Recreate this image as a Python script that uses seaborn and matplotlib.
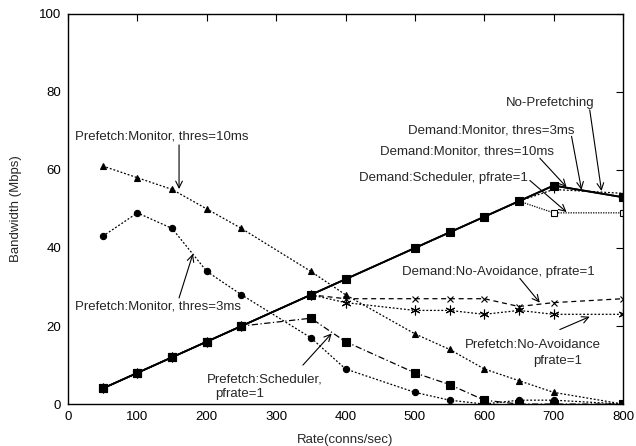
import matplotlib
matplotlib.use("Agg")
import matplotlib.pyplot as plt
import seaborn as sns
import pandas as pd

sns.set_theme(style="white")
plt.rcParams['font.family'] = ['Liberation Sans', 'DejaVu Sans']

rate = [50, 100, 150, 200, 250, 350, 400, 500, 550, 600, 650, 700, 800]

no_prefetching = [4, 8, 12, 16, 20, 28, 32, 40, 44, 48, 52, 55, 54]
demand_monitor_3ms = [4, 8, 12, 16, 20, 28, 32, 40, 44, 48, 52, 56, 53]
demand_monitor_10ms = [4, 8, 12, 16, 20, 28, 32, 40, 44, 48, 52, 56, 53]
demand_scheduler = [4, 8, 12, 16, 20, 28, 32, 40, 44, 48, 52, 49, 49]
demand_noavoid = [4, 8, 12, 16, 20, 28, 27, 27, 27, 27, 25, 26, 27]
prefetch_noavoid = [4, 8, 12, 16, 20, 28, 26, 24, 24, 23, 24, 23, 23]
prefetch_monitor_10ms = [61, 58, 55, 50, 45, 34, 28, 18, 14, 9, 6, 3, 0]
prefetch_monitor_3ms = [43, 49, 45, 34, 28, 17, 9, 3, 1, 0, 1, 1, 0]
prefetch_scheduler = [4, 8, 12, 16, 20, 22, 16, 8, 5, 1, 0, 0, 0]

fig = plt.figure(figsize=(6.36, 4.46), dpi=100)
ax = fig.add_axes([0.107, 0.094, 0.8726, 0.875])

def draw(vals, ls, marker, ms, lw=0.9, mfc='black', zorder=2):
    df = pd.DataFrame({"rate": rate, "bw": vals})
    sns.lineplot(data=df, x="rate", y="bw", ax=ax, color="black",
                 linestyle=ls, marker=marker, markersize=ms, lw=lw,
                 markerfacecolor=mfc, markeredgecolor='black',
                 markeredgewidth=0.8, estimator=None, sort=False,
                 zorder=zorder)

draw(prefetch_monitor_10ms, (0, (1.5, 1.5)), '^', 4)
draw(prefetch_monitor_3ms, (0, (1.5, 1.5)), 'o', 4.5)
draw(prefetch_scheduler, (0, (5, 2, 1, 2)), 's', 5.5)
draw(prefetch_noavoid, (0, (1.5, 1.5)), (6, 2, 0), 7)
draw(demand_noavoid, (0, (4, 3)), 'x', 5)
draw(demand_scheduler, (0, (1, 1)), 's', 5, mfc='white')
draw(no_prefetching, (0, (1.5, 1.5)), '+', 6)
draw(demand_monitor_10ms, '-', 's', 6, lw=1.3, zorder=3)
draw(demand_monitor_3ms, '-', 'o', 5.5, lw=1.3, zorder=3)

ax.set_xlim(0, 800)
ax.set_ylim(0, 100)
ax.set_xticks(range(0, 801, 100))
ax.set_yticks(range(0, 101, 20))
ax.tick_params(direction='in', length=5, width=0.8, top=True, right=True,
               labelsize=9.5, colors='black', pad=5)
for s in ax.spines.values():
    s.set_color('black')
    s.set_linewidth(1.0)
ax.set_xlabel("Rate(conns/sec)", fontsize=9.5, labelpad=8)
ax.set_ylabel("Bandwidth (Mbps)", fontsize=9.5, labelpad=12)

fs = 9.5
ap = dict(arrowstyle='->', lw=0.8, color='black', mutation_scale=12,
          shrinkA=0, shrinkB=0)

ax.text(10, 68.5, "Prefetch:Monitor, thres=10ms", fontsize=fs, va='center')
ax.annotate("", xy=(160, 55.1), xytext=(160, 66.4), arrowprops=ap)

ax.text(10, 25.1, "Prefetch:Monitor, thres=3ms", fontsize=fs, va='center')
ax.annotate("", xy=(180, 38.5), xytext=(160, 27.2), arrowprops=ap)

ax.text(200, 6.4, "Prefetch:Scheduler,", fontsize=fs, va='center')
ax.text(212, 2.7, "pfrate=1", fontsize=fs, va='center')
ax.annotate("", xy=(380, 18.1), xytext=(338.6, 10), arrowprops=ap)

ax.text(480.8, 33.9, "Demand:No-Avoidance, pfrate=1", fontsize=fs, va='center')
ax.annotate("", xy=(680, 26), xytext=(651.3, 32.2), arrowprops=ap)

ax.text(572, 15.1, "Prefetch:No-Avoidance", fontsize=fs, va='center')
ax.text(670, 11.0, "pfrate=1", fontsize=fs, va='center')
ax.annotate("", xy=(752, 22.4), xytext=(708.9, 19.1), arrowprops=ap)

ax.text(631, 77.1, "No-Prefetching", fontsize=fs, va='center')
ax.annotate("", xy=(769, 54.6), xytext=(752, 75.4), arrowprops=ap)

ax.text(730.5, 70.1, "Demand:Monitor, thres=3ms", fontsize=fs, va='center', ha='right')
ax.annotate("", xy=(740.2, 54.9), xytext=(725.8, 68.6), arrowprops=ap)

ax.text(700.3, 64.7, "Demand:Monitor, thres=10ms", fontsize=fs, va='center', ha='right')
ax.annotate("", xy=(718.6, 55.6), xytext=(680.1, 63), arrowprops=ap)

ax.text(662.8, 57.9, "Demand:Scheduler, pfrate=1", fontsize=fs, va='center', ha='right')
ax.annotate("", xy=(718.6, 49.2), xytext=(665.7, 57.3), arrowprops=ap)

fig.savefig("out.png", dpi=100)
